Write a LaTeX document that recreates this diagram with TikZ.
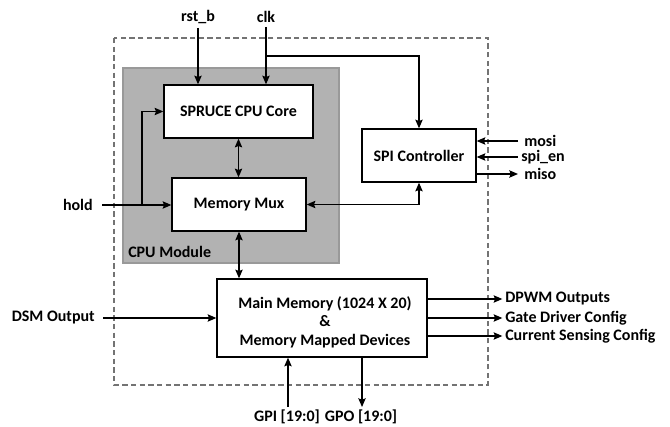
\documentclass[tikz,border=0pt]{standalone}
\usepackage{fontspec}
\setmainfont{Carlito}
\usetikzlibrary{arrows.meta}
\begin{document}
\begin{tikzpicture}[x=0.75pt,y=-0.75pt,
  txt/.style={font=\fontsize{12}{14}\selectfont\bfseries, inner sep=0pt},
  blk/.style={draw, line width=1pt, fill=white, inner sep=0pt, txt, align=center},
  arr/.style={-{Stealth[length=6.5pt,width=5.5pt,inset=1pt]}, line width=1pt},
  darr/.style={{Stealth[length=6.5pt,width=5.5pt,inset=1pt]}-{Stealth[length=6.5pt,width=5.5pt,inset=1pt]}, line width=1pt}]
\useasboundingbox (0,0) rectangle (670,427);
% outer dashed box
\draw[black!55, line width=0.8pt, dash pattern=on 4pt off 2.5pt] (114,38) rectangle (488,385);
% CPU module
\draw[black!40, fill=black!30, line width=0.8pt] (123,68) rectangle (339,263);
\node[txt, anchor=west] (cpum) at (128,252) {CPU Module};
% blocks
\node[blk, minimum width=111.75pt, minimum height=39.75pt] (core) at (238.5,111.5) {SPRUCE CPU Core};
\node[blk, minimum width=100.5pt, minimum height=39.75pt] (mux) at (239,204.5) {Memory Mux};
\node[blk, minimum width=85.5pt, minimum height=39.75pt] (spi) at (419,155.5) {SPI Controller};
\node[blk, minimum width=157.5pt, minimum height=58.5pt] (mem) at (322,318) {};
\node[txt, align=center] (memt) at (325,322) {Main Memory (1024 X 20)\\\&\\Memory Mapped Devices};
% top inputs
\node[txt] (rst) at (198,17) {rst\_b};
\node[txt] (clk) at (266,17) {clk};
\draw[arr] ([yshift=-3pt]rst.south) -- (rst |- core.north);
\draw[arr] ([yshift=-3pt]clk.south) -- (clk |- core.north);
\coordinate (cb) at (266,56);
\draw[arr] (cb) -| (spi.north);
% hold
\node[txt, anchor=east] (hold) at (93,205) {hold};
\draw[arr] ([xshift=7pt]hold.east) -- (hold.east -| mux.west);
\coordinate (hb) at (142,205);
\draw[arr] (hb) |- (core.west);
% core <-> mux <-> mem
\draw[darr] (core.south) -- (core.south |- mux.north);
\draw[darr] (mux.south) -- (mux.south |- mem.north);
% mux <-> spi
\draw[darr] (mux.east) -| (spi.south);
% SPI signals
\node[txt, anchor=west] (mosi) at (524,141) {mosi};
\node[txt, anchor=west] (spien) at (521,157) {spi\_en};
\node[txt, anchor=west] (miso) at (524,174) {miso};
\draw[arr] ([xshift=-4.5pt]mosi.west) -- (mosi.west -| spi.east);
\draw[arr] ([xshift=-2.3pt]spien.west) -- (spien.west -| spi.east);
\draw[arr] (miso.west -| spi.east) -- ([xshift=-4.5pt]miso.west);
% DSM
\node[txt, anchor=east] (dsm) at (95,318) {DSM Output};
\draw[arr] ([xshift=6pt]dsm.east) -- (mem.west);
% outputs
\node[txt, anchor=west] (dpwm) at (505,299) {DPWM Outputs};
\node[txt, anchor=west] (gate) at (505,318) {Gate Driver Config};
\node[txt, anchor=west] (curr) at (505,336) {Current Sensing Config};
\draw[arr] (dpwm.west -| mem.east) -- ([xshift=-2pt]dpwm.west);
\draw[arr] (gate.west -| mem.east) -- ([xshift=-2pt]gate.west);
\draw[arr] (curr.west -| mem.east) -- ([xshift=-2pt]curr.west);
% GPI / GPO
\node[txt] (gpi) at (287,417) {GPI [19:0]};
\node[txt] (gpo) at (361,417) {GPO [19:0]};
\coordinate (gpib) at (288,407);
\coordinate (gpob) at (362,407);
\draw[arr] (gpib) -- (gpib |- mem.south);
\draw[arr] (gpob |- mem.south) -- (gpob);
\end{tikzpicture}
\end{document}
